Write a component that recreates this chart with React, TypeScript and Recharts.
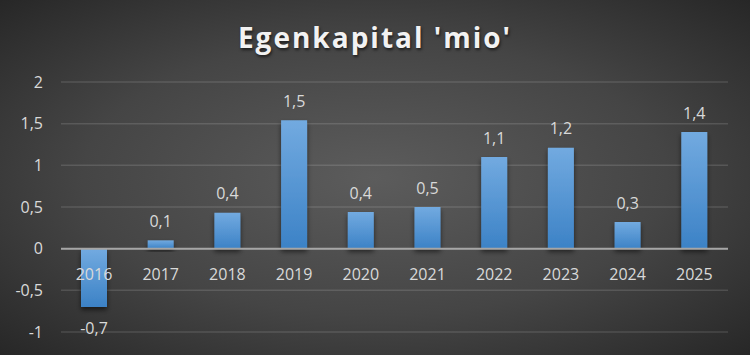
import React from 'react';
import { BarChart, Bar, XAxis, YAxis, CartesianGrid, LabelList, ReferenceLine } from 'recharts';

const years = ['2016', '2017', '2018', '2019', '2020', '2021', '2022', '2023', '2024', '2025'];
const equity = [-0.7, 0.1, 0.43, 1.54, 0.44, 0.5, 1.1, 1.21, 0.32, 1.4];
const yTicks = [-1, -0.5, 0, 0.5, 1, 1.5, 2];
const title = "Egenkapital 'mio'";

const data = years.map((year, i) => ({ year, value: equity[i] }));

const fmt = (v: number) => String(Math.abs(v) < 1e-9 ? 0 : v).replace('.', ',');
const fmt1 = (v: number) => v.toFixed(1).replace('.', ',');

const FONT = "'Open Sans', 'DejaVu Sans', sans-serif";
const TXT = '#d9d9d9';

const box = (props: any) => {
  const vb = props.viewBox ?? props;
  const x = Number(vb.x), y = Number(vb.y), w = Number(vb.width), h = Number(vb.height);
  return { x, y, w, h, top: Math.min(y, y + h), bottom: Math.max(y, y + h) };
};

const YearLabel = (props: any) => {
  const { x, w, top, bottom } = box(props);
  const v = equity[props.index];
  const zeroY = v < 0 ? top : bottom;
  return (
    <text x={x + w / 2} y={zeroY + 25} textAnchor="middle" dominantBaseline="central"
      fill={TXT} fontSize={16} fontFamily={FONT}>{years[props.index]}</text>
  );
};

const ValueLabel = (props: any) => {
  const { x, w, top, bottom } = box(props);
  const v = equity[props.index];
  const cy = v < 0 ? bottom + 21 : top - 19.5;
  return (
    <text x={x + w / 2} y={cy} textAnchor="middle" dominantBaseline="central"
      fill={TXT} fontSize={16} fontFamily={FONT}>{fmt1(v)}</text>
  );
};

export default function App() {
  return (
    <div style={{
      position: 'absolute', left: 0, top: 0, width: 750, height: 355,
      background: 'radial-gradient(ellipse at 50% 50%, #5c5c5c 0%, #454545 55%, #272727 100%)',
      overflow: 'hidden',
    }}>
      <div style={{
        position: 'absolute', left: 0, top: 19, width: 750, textAlign: 'center',
        fontFamily: FONT, fontWeight: 700, fontSize: 28, letterSpacing: 2,
        color: '#f2f2f2', textShadow: '1px 2px 3px rgba(0,0,0,0.6)', lineHeight: '36px',
      }}>{title}</div>
      <BarChart width={750} height={355} data={data}
        margin={{ top: 82, right: 22, bottom: 23, left: 0 }} barSize={26}
        style={{ position: 'absolute', left: 0, top: 0 }}>
        <defs>
          <linearGradient id="barGrad" x1="0" y1="0" x2="0" y2="1">
            <stop offset="0%" stopColor="#72aae0" />
            <stop offset="100%" stopColor="#3c82c6" />
          </linearGradient>
          <filter id="barShadow" x="-30%" y="-30%" width="160%" height="160%">
            <feDropShadow dx="0" dy="3" stdDeviation="2.5" floodColor="#000" floodOpacity="0.55" />
          </filter>
        </defs>
        <CartesianGrid vertical={false} stroke="rgba(255,255,255,0.13)" strokeWidth={1.5} />
        <XAxis dataKey="year" hide />
        <YAxis domain={[-1, 2]} ticks={yTicks} width={61} axisLine={false} tickLine={false}
          tickSize={0} tickMargin={18} tickFormatter={fmt}
          tick={{ fill: TXT, fontSize: 16, fontFamily: FONT }} />
        <ReferenceLine y={0} stroke="#a6a6a6" strokeWidth={2} />
        <Bar dataKey="value" fill="url(#barGrad)" filter="url(#barShadow)" isAnimationActive={false}>
          <LabelList dataKey="year" content={YearLabel} />
          <LabelList dataKey="value" content={ValueLabel} />
        </Bar>
      </BarChart>
    </div>
  );
}
